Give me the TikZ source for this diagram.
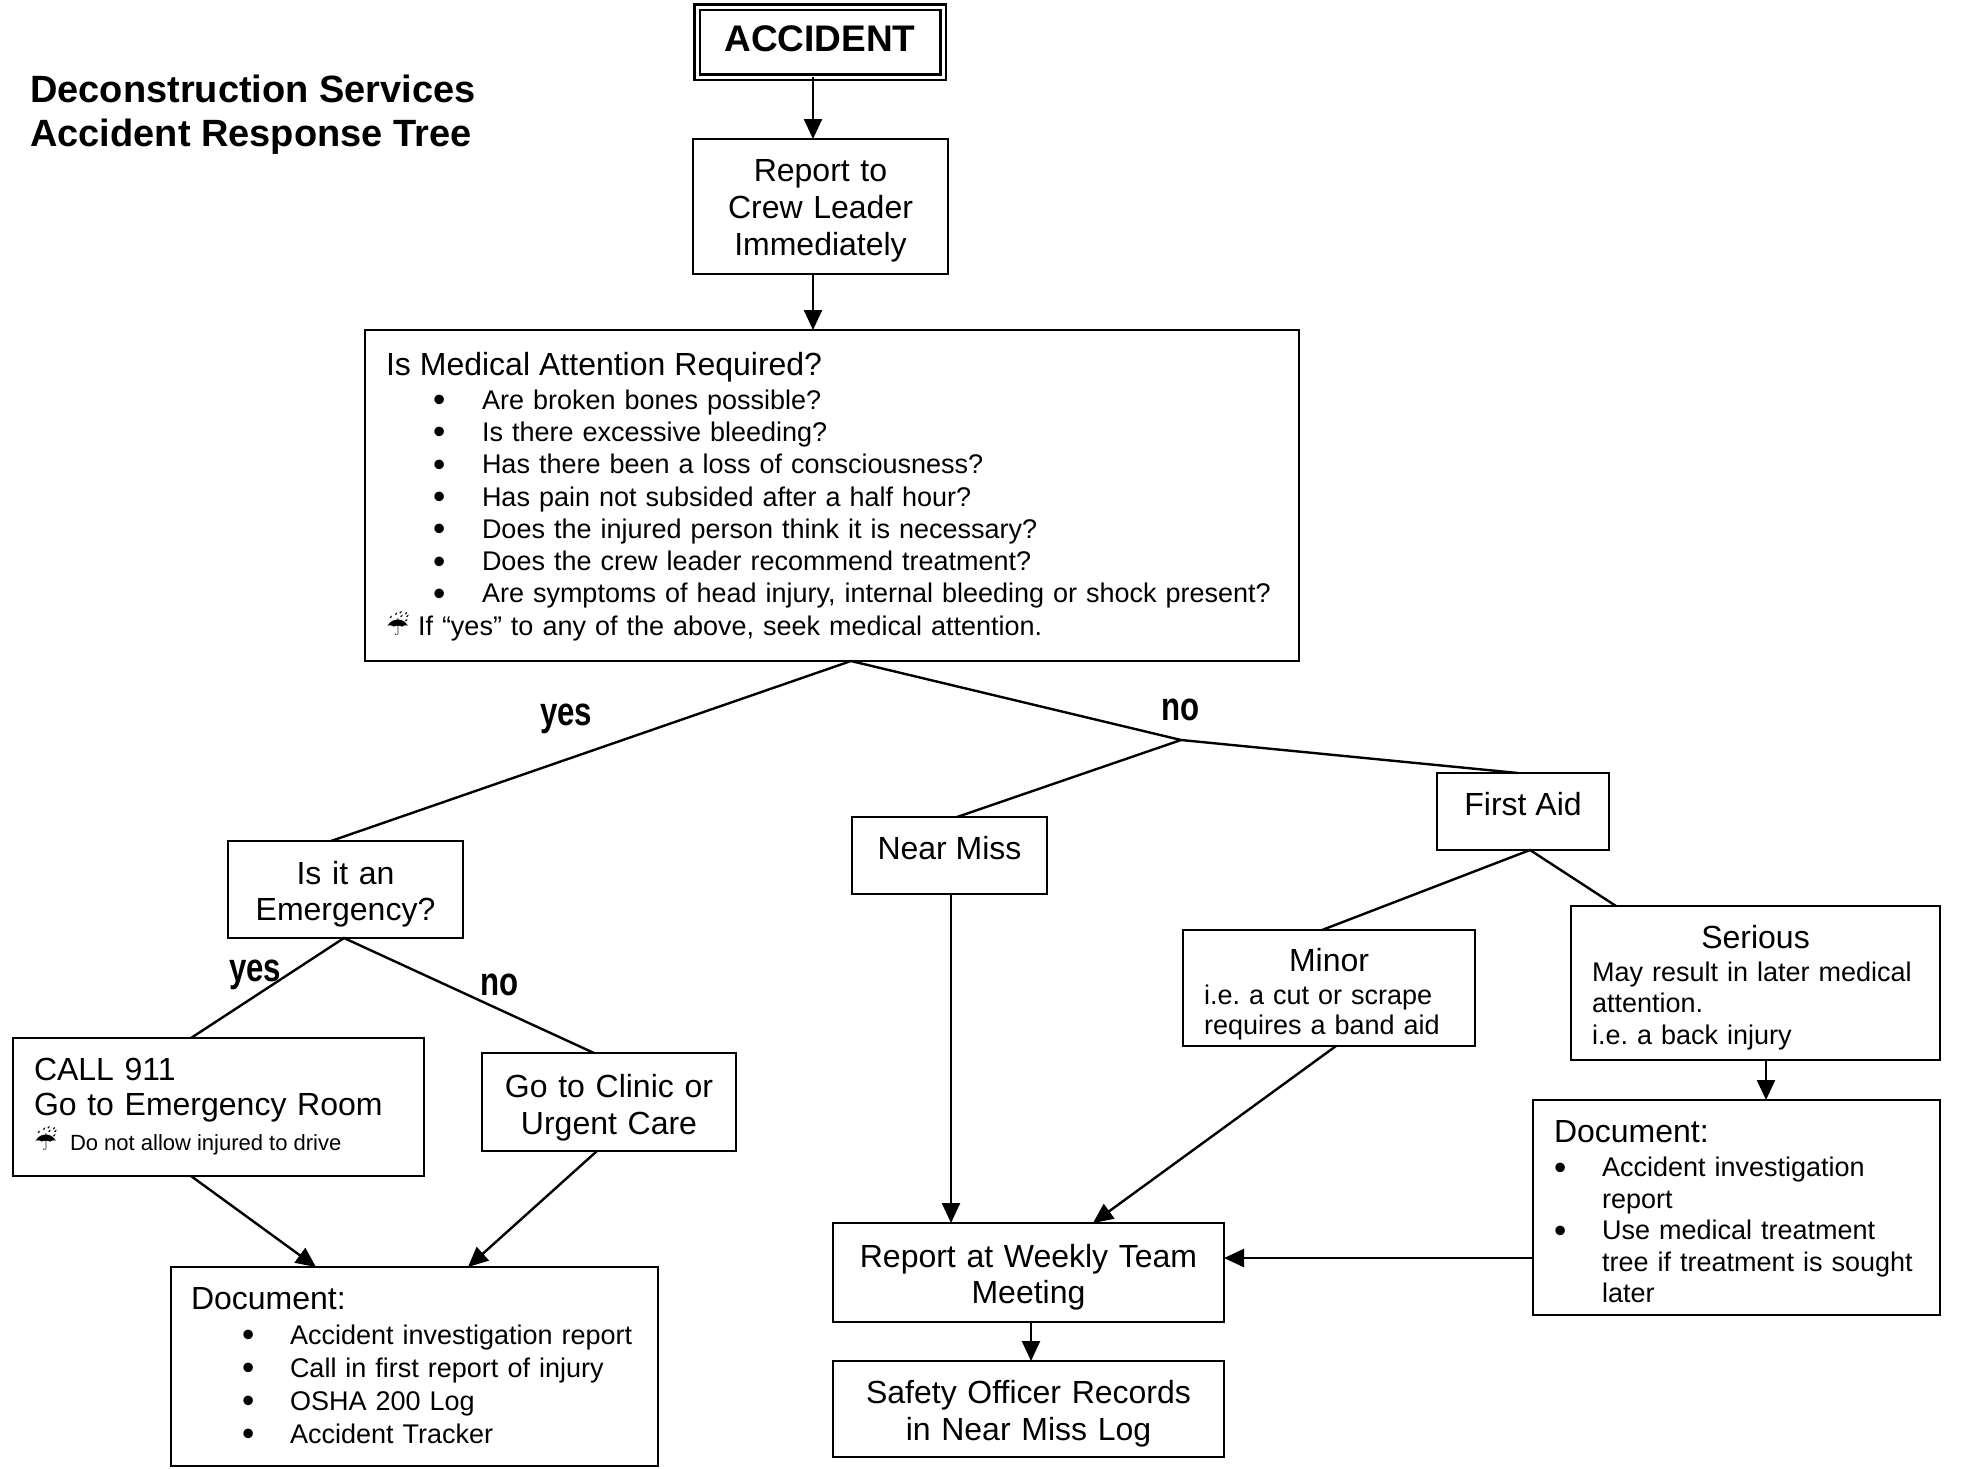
\documentclass[tikz,border=0pt]{standalone}
\usepackage{fontspec}
\setmainfont{Liberation Sans}
\newfontfamily\dejavu{DejaVu Sans}
\newfontfamily\narrowfont[FakeStretch=0.78]{Liberation Sans}
\usetikzlibrary{arrows.meta,calc}
\frenchspacing
\newcommand\umb{{\dejavu\fontsize{26}{26}\selectfont ☔}}
\newcommand\bigbul{\raisebox{-2.5pt}{\fontsize{35}{35}\selectfont •}}
\newcommand\bulM{\hspace*{47pt}\makebox[49pt][l]{\bigbul}}
\newcommand\bulL{\hspace*{51pt}\makebox[48pt][l]{\bigbul}}
\newcommand\bulR{\makebox[48pt][l]{\bigbul}}
\tikzset{
  box/.style={draw, line width=2.6pt, inner sep=0pt, outer sep=0pt},
  conn/.style={line width=2.4pt},
  arr/.style={conn, -{Triangle[length=20pt,width=18pt]}},
  lbl/.style={inner sep=0pt, font=\narrowfont\bfseries\fontsize{40}{40}\selectfont},
  mainfs/.style={font=\fontsize{32}{37}\selectfont}
}
\begin{document}
\begin{tikzpicture}[x=1pt,y=-1pt]
\fill[white] (0,0) rectangle (1983,1468);
\useasboundingbox (0,0) rectangle (1983,1468);

% title
\node[anchor=west, align=left, inner sep=0pt, font=\bfseries\fontsize{38}{44}\selectfont] (title) at (30,115) {Deconstruction Services\\Accident Response Tree};

% boxes
\node[box, double, double distance=3pt, minimum width=246pt, minimum height=70pt, text height=27pt, text depth=8pt, font=\bfseries\fontsize{37}{37}\selectfont] (acc) at (820,42) {ACCIDENT};

\node[box, mainfs, minimum width=255pt, minimum height=135pt, text width=235pt, align=center, text height=31pt] (report) at (820.5,206.5) {Report to\\Crew Leader\\Immediately};

\node[box, minimum width=934pt, minimum height=331pt, text width=892pt, align=left, text height=25pt, font=\fontsize{27}{32.3}\selectfont] (med) at (832,495.5) {{\fontsize{32}{32}\selectfont Is Medical Attention Required?}\\[1.7pt]
\bulM Are broken bones possible?\\
\bulM Is there excessive bleeding?\\
\bulM Has there been a loss of consciousness?\\
\bulM Has pain not subsided after a half hour?\\
\bulM Does the injured person think it is necessary?\\
\bulM Does the crew leader recommend treatment?\\
\bulM Are symptoms of head injury, internal bleeding or shock present?\\
\makebox[32pt][l]{\umb}If “yes” to any of the above, seek medical attention.};

\node[box, minimum width=235pt, minimum height=97pt, text width=215pt, align=center, text height=33pt, font=\fontsize{32}{36}\selectfont] (emerg) at (345.5,889.5) {Is it an\\Emergency?};

\node[box, minimum width=411pt, minimum height=138pt, text width=369pt, align=left, font=\fontsize{32}{35}\selectfont] (call) at (218.5,1107) {CALL 911\\Go to Emergency Room\\\mbox{\fontsize{22}{34}\selectfont\spaceskip=6.1pt plus 2pt minus 1pt\makebox[36pt][l]{\umb}Do not allow injured to drive}};

\node[box, mainfs, minimum width=254pt, minimum height=98pt, text width=234pt, align=center, text height=34.5pt] (clinic) at (609,1102) {Go to Clinic or\\Urgent Care};

\node[box, minimum width=487pt, minimum height=199pt, text width=447pt, align=left, font=\fontsize{27}{33}\selectfont] (docL) at (414.5,1366.5) {{\fontsize{32}{32}\selectfont Document:}\\[2pt]
\bulL Accident investigation report\\
\bulL Call in first report of injury\\
\bulL OSHA 200 Log\\
\bulL Accident Tracker};

\node[box, mainfs, minimum width=195pt, minimum height=77pt, text height=23pt, text depth=16pt] (near) at (949.5,855.5) {Near Miss};

\node[box, mainfs, minimum width=172pt, minimum height=77pt, text height=23pt, text depth=15pt] (firstaid) at (1523,811.5) {First Aid};

\node[box, minimum width=292pt, minimum height=116pt, text width=250pt, align=left, text height=35pt, font=\fontsize{27}{30}\selectfont] (minor) at (1329,988) {\makebox[250pt][c]{\fontsize{32}{32}\selectfont Minor}\\[3pt]
i.e. a cut or scrape\\
requires a band aid};

\node[box, minimum width=369pt, minimum height=154pt, text width=327pt, align=left, text height=32pt, font=\fontsize{27}{31.5}\selectfont] (serious) at (1755.5,983) {\makebox[327pt][c]{\fontsize{32}{32}\selectfont Serious}\\[1.5pt]
May result in later medical\\
attention.\\
i.e. a back injury};

\node[box, minimum width=407pt, minimum height=215pt, text width=365pt, align=left, text height=31pt, font=\fontsize{27}{31.5}\selectfont] (docR) at (1736.5,1207.5) {{\fontsize{32}{32}\selectfont Document:}\\[2.5pt]
\bulR Accident investigation\\
\hspace*{48pt}report\\
\bulR Use medical treatment\\
\hspace*{48pt}tree if treatment is sought\\
\hspace*{48pt}later};

\node[box, minimum width=391pt, minimum height=99pt, text width=371pt, align=center, text height=32pt, font=\fontsize{32}{36}\selectfont] (weekly) at (1028.5,1272.5) {Report at Weekly Team\\Meeting};

\node[box, mainfs, minimum width=391pt, minimum height=96pt, text width=371pt, align=center, text height=33pt] (safety) at (1028.5,1409) {Safety Officer Records\\in Near Miss Log};

% labels
\node[lbl, anchor=base west] (yes1) at (540,725) {yes};
\node[lbl, anchor=base west] (no1) at (1161,720) {no};
\node[lbl, anchor=base west] (yes2) at (229,981) {yes};
\node[lbl, anchor=base west] (no2) at (480,995) {no};

% tree lines
\coordinate (apex) at ($(med.south)+(19,0)$);
\coordinate (nojunc) at (1181,740);
\draw[conn] ($(emerg.north)+(-14.5,0)$) -- (apex) -- (nojunc) -- ($(firstaid.north)+(-5,0)$);
\draw[conn] (nojunc) -- ($(near.north)+(7.5,0)$);
\draw[conn] ($(call.north)+(-27.5,0)$) -- ($(emerg.south)+(-1.5,0)$) -- ($(clinic.north)+(-15,0)$);
\draw[conn] ($(minor.north)+(-7,0)$) -- ($(firstaid.south)+(7,0)$) -- ($(serious.north)+(-139.5,0)$);

% arrows
\draw[arr] ($(acc.south)+(-7,0)$) -- ($(report.north)+(-7.5,0)$);
\draw[arr] ($(report.south)+(-7.5,0)$) -- ($(med.north)+(-19,0)$);
\draw[arr] ($(call.south)+(-27.5,0)$) -- ($(docL.north)+(-98.5,0)$);
\draw[arr] ($(clinic.south)+(-12,0)$) -- ($(docL.north)+(53.5,0)$);
\draw[arr] ($(near.south)+(1.5,0)$) -- ($(weekly.north)+(-77.5,0)$);
\draw[arr] ($(minor.south)+(7,0)$) -- ($(weekly.north)+(64.5,0)$);
\draw[arr] ($(serious.south)+(10.5,0)$) -- ($(docR.north)+(29.5,0)$);
\draw[arr] ($(docR.west)+(0,50.5)$) -- ($(weekly.east)+(0,-14.5)$);
\draw[arr] ($(weekly.south)+(2.5,0)$) -- ($(safety.north)+(2.5,0)$);
\end{tikzpicture}
\end{document}
